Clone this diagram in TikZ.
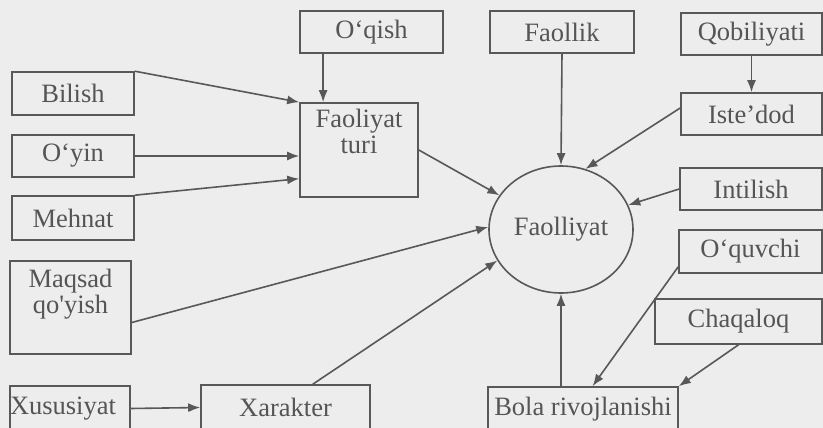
\documentclass[tikz,border=0pt]{standalone}
\usepackage{fontspec}
\setmainfont{Liberation Serif}
\usepackage{xcolor}
\usepackage{tikz}
\definecolor{paper}{RGB}{237, 237, 237}
\definecolor{inkgray}{RGB}{88, 88, 88}
\definecolor{textgray}{RGB}{85, 85, 85}
\usetikzlibrary{shapes, arrows.meta, positioning, calc}

\begin{document}
\begin{tikzpicture}[
    x=1pt, y=-1pt,
    box/.style={rectangle, draw=inkgray, line width=1.6pt, inner sep=0pt, text=textgray, font=\fontsize{26.5}{26}\selectfont, align=center},
    oval/.style={ellipse, draw=inkgray, line width=1.6pt, inner sep=0pt, minimum width=144pt, minimum height=127pt, text=textgray, font=\fontsize{26.5}{26}\selectfont},
    boxtext/.style={anchor=north, inner sep=0pt, text=textgray, font=\fontsize{26.5}{26}\selectfont, align=center},
    arrow/.style={-{Latex[length=12pt, width=9pt]}, draw=inkgray, line width=1.6pt}
]
    \useasboundingbox (0, 0) rectangle (823, 428);
    \clip (0, 0) rectangle (823, 428);
    \fill[paper] (0, 0) rectangle (823, 428);

    % top row
    \node[box, minimum width=143pt, minimum height=42pt] (oqish) at (371.5, 32) {O‘qish};
    \node[box, minimum width=144pt, minimum height=42pt] (faollik) at (562, 32) {Faollik};
    \node[box, minimum width=141pt, minimum height=42pt] (qobil) at (751.5, 34) {Qobiliyati};

    % left column
    \node[box, minimum width=122pt, minimum height=43pt] (bilish) at (73, 93.5) {Bilish};
    \node[box, minimum width=122pt, minimum height=42pt] (oyin) at (73, 156) {O‘yin};
    \node[box, minimum width=122pt, minimum height=44pt] (mehnat) at (73, 218) {Mehnat};
    \node[box, minimum width=121pt, minimum height=93pt] (maqsad) at (70.5, 307.5) {};
    \node[boxtext, below=9pt of maqsad.north] (maqsadtxt) {Maqsad\\qo\textquotesingle yish};

    \node[box, minimum width=118pt, minimum height=94pt] (turi) at (359, 150) {};
    \node[boxtext, below=7pt of turi.north] (turitxt) {Faoliyat\\turi};
    \coordinate (turitop) at ($(turi.north west)!0.2!(turi.north east)$);
    \coordinate (turilow) at ($(turi.south west)!0.2!(turi.north west)$);

    % centre
    \node[oval] (faol) at (561, 229.5) {Faolliyat};

    % right column
    \node[box, minimum width=141pt, minimum height=42pt] (iste) at (751.5, 114) {Iste’dod};
    \node[box, minimum width=142pt, minimum height=42pt] (intil) at (751, 189) {Intilish};
    \node[box, minimum width=143pt, minimum height=43pt] (oquv) at (750.5, 251.5) {O‘quvchi};
    \node[box, minimum width=167pt, minimum height=45pt] (chaq) at (738.5, 321.5) {Chaqaloq};

    % bottom row
    \node[box, text width=120pt, align=left, minimum height=45pt] (xusus) at (70, 408.5) {Xususiyat};
    \node[box, minimum width=169pt, minimum height=45pt] (xarakter) at (285.5, 407.5) {Xarakter};
    \node[box, minimum width=190pt, minimum height=45pt] (bola) at (583, 409.5) {Bola rivojlanishi};
    \coordinate (bolatop) at ($(bola.north west)!0.55!(bola.north east)$);
    \coordinate (xartop) at ($(xarakter.north west)!0.66!(xarakter.north east)$);

    % arrows into Faoliyat turi
    \draw[arrow] (turitop |- oqish.south) -- (turitop);
    \draw[arrow] (bilish.north east) -- (turi.north west);
    \draw[arrow] (oyin.east) -- (oyin.east -| turi.west);
    \draw[arrow] (mehnat.north east) -- (turilow);

    % arrows into Faolliyat
    \draw[arrow] (turi.east) -- (faol.151);
    \draw[arrow] (faollik.south) -- (faol.north);
    \draw[arrow] ([yshift=6pt]iste.west) -- (faol.68);
    \draw[arrow] (intil.west) -- (faol.20);
    \draw[arrow] ([yshift=-15pt]maqsad.east) -- (faol.178);
    \draw[arrow] (xartop) -- (faol.206);
    \draw[arrow] (bola.north -| faol.south) -- (faol.south);

    % other links
    \draw[arrow] (qobil.south) -- (iste.north);
    \draw[arrow] (xusus.east) -- (xarakter.west);
    \draw[arrow] ([yshift=7pt]oquv.south west) -- (bolatop);
    \draw[arrow] (chaq.south) -- (bola.north east);
\end{tikzpicture}
\end{document}
